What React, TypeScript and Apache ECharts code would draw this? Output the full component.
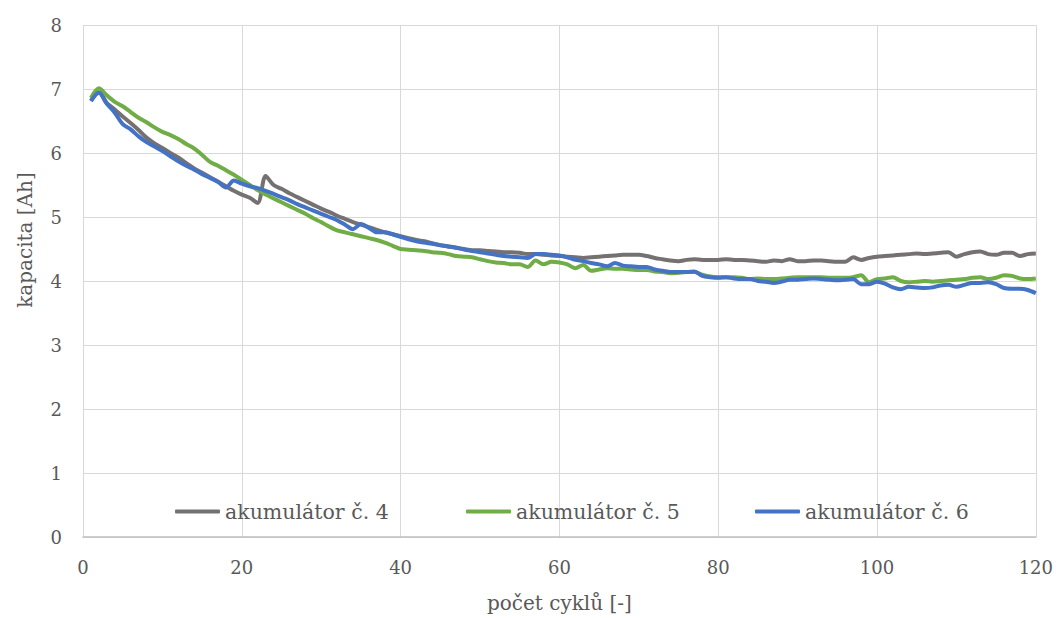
import React, { useEffect, useRef } from "react";
import * as echarts from "echarts";

const cycles: number[] = Array.from({ length: 120 }, (_, i) => i + 1);

const akumulator4: number[] = [
  6.82, 6.95, 6.78, 6.68, 6.57, 6.47, 6.36, 6.24, 6.15, 6.08,
  6.0, 5.93, 5.84, 5.76, 5.69, 5.62, 5.55, 5.48, 5.41, 5.35,
  5.3, 5.22, 5.64, 5.5, 5.44, 5.37, 5.31, 5.25, 5.19, 5.13,
  5.08, 5.02, 4.97, 4.92, 4.88, 4.84, 4.8, 4.76, 4.73, 4.7,
  4.67, 4.64, 4.62, 4.59, 4.56, 4.54, 4.52, 4.5, 4.48, 4.48,
  4.47, 4.46, 4.45, 4.45, 4.44, 4.42, 4.42, 4.41, 4.4, 4.39,
  4.38, 4.37, 4.36, 4.37, 4.38, 4.39, 4.4, 4.41, 4.41, 4.41,
  4.39, 4.36, 4.34, 4.32, 4.31, 4.33, 4.34, 4.33, 4.33, 4.33,
  4.34, 4.33, 4.33, 4.32, 4.31, 4.3, 4.32, 4.31, 4.34, 4.31,
  4.31, 4.32, 4.32, 4.31, 4.3, 4.3, 4.37, 4.33, 4.36, 4.38,
  4.39, 4.4, 4.41, 4.42, 4.43, 4.42, 4.43, 4.44, 4.45, 4.38,
  4.42, 4.45, 4.46, 4.42, 4.41, 4.44, 4.44, 4.39, 4.42, 4.43,
];

const akumulator5: number[] = [
  6.86, 7.01, 6.9, 6.8, 6.73, 6.64, 6.55, 6.48, 6.4, 6.33,
  6.28, 6.22, 6.14, 6.07, 5.97, 5.86, 5.8, 5.73, 5.66, 5.58,
  5.5, 5.42, 5.35, 5.29, 5.23, 5.17, 5.11, 5.05, 4.98, 4.92,
  4.85, 4.79, 4.76, 4.73, 4.7, 4.67, 4.64, 4.6, 4.55, 4.5,
  4.49, 4.48, 4.47, 4.45, 4.44, 4.42, 4.39, 4.38, 4.37, 4.34,
  4.31, 4.29, 4.28, 4.26, 4.26, 4.22, 4.32, 4.26, 4.3, 4.29,
  4.26, 4.2, 4.25, 4.16, 4.18, 4.2, 4.19, 4.19, 4.18, 4.17,
  4.17, 4.15, 4.14, 4.12, 4.13, 4.14, 4.14, 4.1, 4.07, 4.06,
  4.06, 4.06, 4.05, 4.03, 4.04, 4.03, 4.03, 4.04, 4.05, 4.06,
  4.06, 4.06, 4.06, 4.05, 4.05, 4.05, 4.06, 4.09, 3.98, 4.03,
  4.04, 4.06, 4.0, 3.98, 3.99, 4.0, 3.99, 4.0, 4.01, 4.02,
  4.03, 4.05, 4.06, 4.03, 4.05, 4.09, 4.08, 4.04, 4.03, 4.04,
];

const akumulator6: number[] = [
  6.81, 6.94, 6.77, 6.63, 6.45, 6.37, 6.26, 6.17, 6.1, 6.03,
  5.95, 5.87, 5.8, 5.74, 5.67, 5.61, 5.55, 5.46, 5.57, 5.52,
  5.48, 5.45, 5.41, 5.36, 5.31, 5.26, 5.2, 5.15, 5.1, 5.05,
  5.0, 4.95, 4.88, 4.81, 4.89, 4.83, 4.76, 4.76, 4.73, 4.69,
  4.65, 4.62, 4.6, 4.58, 4.56, 4.54, 4.52, 4.49, 4.47, 4.45,
  4.43, 4.41, 4.39, 4.38, 4.37, 4.36, 4.42, 4.42, 4.41, 4.4,
  4.37, 4.33, 4.31, 4.28, 4.26, 4.23, 4.28, 4.24, 4.23, 4.22,
  4.22, 4.18, 4.16, 4.14, 4.14, 4.14, 4.15, 4.08, 4.06, 4.05,
  4.06, 4.04, 4.03, 4.03, 4.0, 3.99, 3.97, 3.99, 4.02, 4.02,
  4.03, 4.04, 4.03, 4.02, 4.01, 4.02, 4.03, 3.95, 3.95, 3.99,
  3.96, 3.9, 3.87, 3.91, 3.9, 3.89, 3.9, 3.93, 3.94, 3.91,
  3.94, 3.97, 3.97, 3.98, 3.95, 3.89, 3.88, 3.88, 3.86, 3.81,
];

const seriesNames = ["akumulátor č. 4", "akumulátor č. 5", "akumulátor č. 6"];
const seriesColors = ["#767171", "#70ad47", "#4472c4"];
const seriesValues = [akumulator4, akumulator5, akumulator6];
const legendLefts = [175, 466, 755];

const FONT = "DejaVu Serif";
const TEXT = "#595959";

export default function App() {
  const ref = useRef<HTMLDivElement>(null);

  useEffect(() => {
    if (!ref.current) return;
    const chart = echarts.init(ref.current, undefined, { renderer: "svg" });
    chart.setOption({
      animation: false,
      backgroundColor: "#ffffff",
      grid: { left: 83, right: 18, top: 25, bottom: 81, containLabel: false },
      legend: seriesNames.map((n, i) => ({
        data: [{ name: n, icon: "roundRect" }],
        left: legendLefts[i],
        top: 501,
        padding: 0,
        itemWidth: 45,
        itemHeight: 4,
        itemGap: 0,
        itemStyle: { borderWidth: 0 },
        textStyle: { color: TEXT, fontFamily: FONT, fontSize: 20.5 },
      })),
      xAxis: {
        type: "value",
        min: 0,
        max: 120,
        interval: 20,
        name: "počet cyklů [-]",
        nameLocation: "middle",
        nameGap: 56,
        nameTextStyle: { color: TEXT, fontFamily: FONT, fontSize: 20 },
        axisLine: { show: true, lineStyle: { color: "#bfbfbf", width: 1.5 } },
        axisTick: { show: false },
        axisLabel: { color: TEXT, fontFamily: FONT, fontSize: 18, margin: 21 },
        splitLine: { show: true, lineStyle: { color: "#d9d9d9", width: 1 } },
      },
      yAxis: {
        type: "value",
        min: 0,
        max: 8,
        interval: 1,
        axisLine: { show: false },
        axisTick: { show: false },
        axisLabel: { color: TEXT, fontFamily: FONT, fontSize: 18, margin: 21 },
        splitLine: { show: true, lineStyle: { color: "#d9d9d9", width: 1 } },
      },
      graphic: [
        {
          type: "text",
          x: 25,
          y: 240,
          rotation: Math.PI / 2,
          style: {
            text: "kapacita [Ah]",
            fill: TEXT,
            font: `20px "${FONT}"`,
            align: "center",
            verticalAlign: "middle",
          },
        },
      ],
      series: seriesNames.map((n, i) => ({
        name: n,
        type: "line",
        symbol: "none",
        smooth: 0.3,
        data: cycles.map((c, j) => [c, seriesValues[i][j]]),
        lineStyle: { color: seriesColors[i], width: 4 },
        itemStyle: { color: seriesColors[i] },
      })),
    });
    return () => chart.dispose();
  }, []);

  return (
    <div
      ref={ref}
      style={{ position: "fixed", left: 0, top: 0, width: 1056, height: 618 }}
    />
  );
}
